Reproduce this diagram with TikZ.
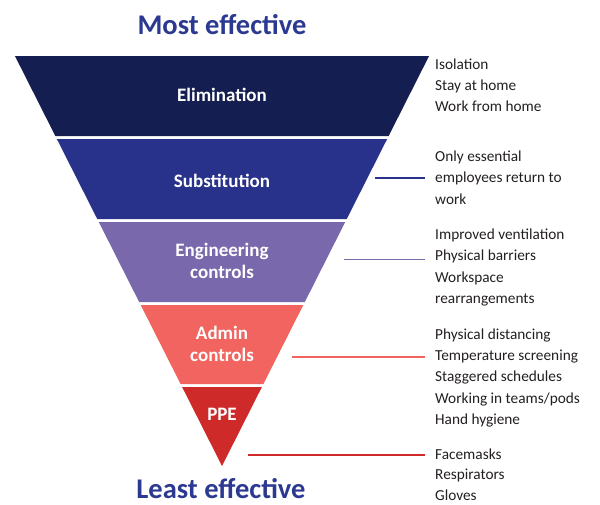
\documentclass[tikz,border=0pt]{standalone}
\usepackage{fontspec}
\setmainfont{Carlito}

\definecolor{elimColor}{HTML}{151E50}
\definecolor{substColor}{HTML}{28328A}
\definecolor{engColor}{HTML}{7A68AD}
\definecolor{adminColor}{HTML}{F1645F}
\definecolor{ppeColor}{HTML}{CF2A2A}
\definecolor{headColor}{HTML}{2B3990}
\definecolor{listColor}{HTML}{231F20}

\begin{document}
\begin{tikzpicture}
[x=1pt,y=-1pt,
 bandLabel/.style={text=white,font=\fontsize{19}{22}\selectfont\bfseries,align=center,inner sep=0pt},
 headLabel/.style={text=headColor,font=\fontsize{28.5}{30}\selectfont\bfseries,inner sep=0pt,anchor=base},
 listText/.style={text=listColor,font=\fontsize{15.3}{21.2}\selectfont,align=left,anchor=base west,inner xsep=10pt,inner ysep=0pt},
 linkLine/.style={line width=1.6pt}]
\useasboundingbox (0,0) rectangle (600,504);
%% bands of the funnel
\foreach \yt/\yb/\col in {56/136/elimColor, 139/219/substColor, 222/302/engColor, 305/384/adminColor, 387/466/ppeColor}
{
  \fill[\col] ({222-0.505*(466-\yt)},\yt) -- ({222+0.505*(466-\yt)},\yt)
    -- ({222+0.505*(466-\yb)},\yb) -- ({222-0.505*(466-\yb)},\yb) -- cycle;
}
%% titles
\node[headLabel] (most) at (222,34.5) {Most effective};
\node[headLabel] (least) at (221,498) {Least effective};
%% band labels
\node[bandLabel,anchor=base] (elim) at (222,101.7) {Elimination};
\node[bandLabel,anchor=base] (subst) at (222,187) {Substitution};
\node[bandLabel] (eng) at (222,261) {Engineering\\controls};
\node[bandLabel] (admin) at (222,343.5) {Admin\\controls};
\node[bandLabel,anchor=base] (ppe) at (222,420.7) {PPE};
%% measures on the right (anchored at the last line)
\node[listText] (elimList) at (425,111.7) {Isolation\\Stay at home\\Work from home};
\node[listText] (substList) at (425,204) {Only essential\\employees return to\\work};
\node[listText] (engList) at (425,303.3) {Improved ventilation\\Physical barriers\\Workspace\\rearrangements};
\node[listText] (adminList) at (425,424.3) {Physical distancing\\Temperature screening\\Staggered schedules\\Working in teams/pods\\Hand hygiene};
\node[listText,font=\fontsize{15.3}{20.6}\selectfont] (ppeList) at (425,500.5) {Facemasks\\Respirators\\Gloves};
%% connectors
\foreach \from/\to/\lx/\ly/\col in {subst/substList/375/177.7/substColor, eng/engList/344/259.3/engColor,
  admin/adminList/292/357/adminColor, ppe/ppeList/248/455/ppeColor}
{
  \coordinate (\from Start) at (\lx,\ly);
  \draw[linkLine,\col] (\from Start) -- (\from Start -| \to.west);
}
\end{tikzpicture}
\end{document}
